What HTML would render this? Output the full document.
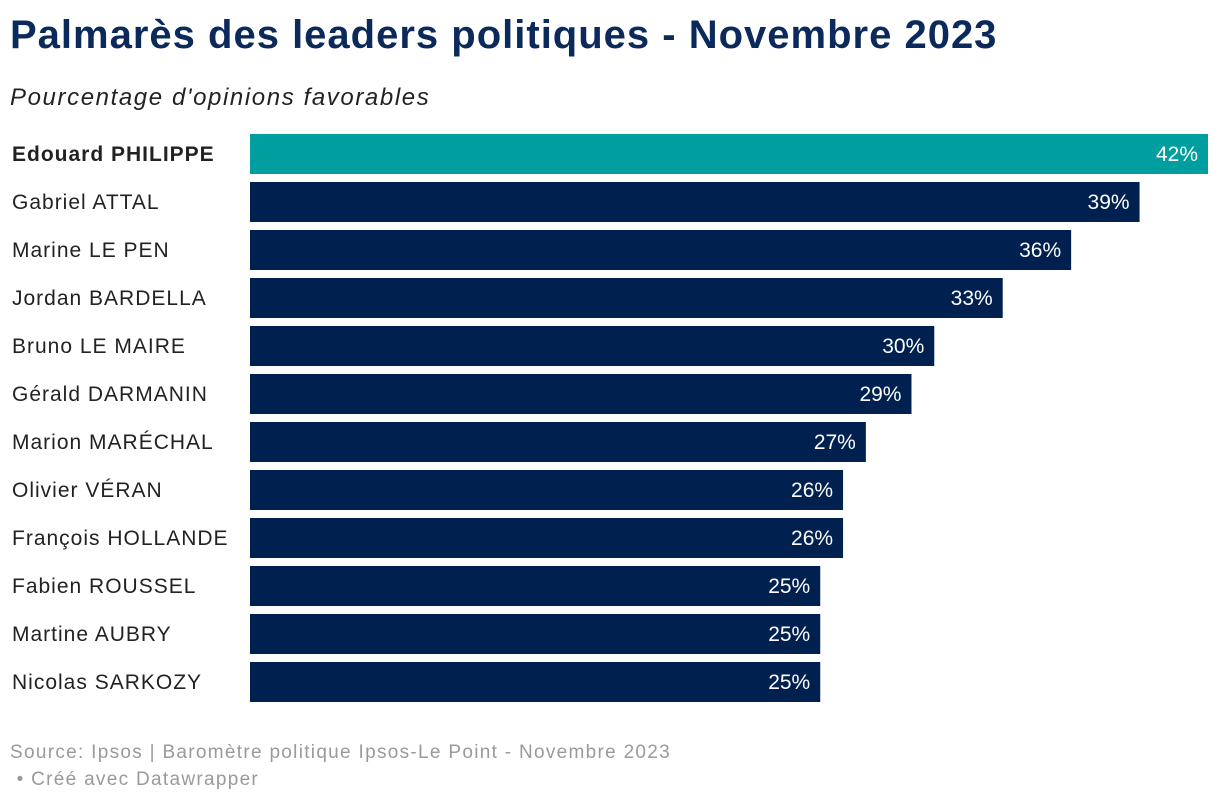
<!DOCTYPE html>
<html><head><meta charset="utf-8"><style>
body{margin:0;width:1220px;height:804px;background:#fff;font-family:"Liberation Sans",sans-serif;position:relative;overflow:hidden}
#title{position:absolute;left:10px;top:13px;font-size:40px;font-weight:bold;color:#0b2a5b;margin:0;letter-spacing:1.0px}
#sub{position:absolute;left:10px;top:84px;font-size:24px;font-style:italic;color:#222;letter-spacing:1.6px}
.foot{position:absolute;left:10px;font-size:19px;color:#9a9a9a;letter-spacing:1.3px}
</style></head><body>
<h1 id="title">Palmarès des leaders politiques - Novembre 2023</h1>
<div id="sub">Pourcentage d'opinions favorables</div>
<svg id="chart" width="1220" height="720" style="position:absolute;left:0;top:0"></svg>
<div class="foot" style="top:742px">Source: Ipsos | Baromètre politique Ipsos-Le Point - Novembre 2023</div>
<div class="foot" style="top:769px">&nbsp;• Créé avec Datawrapper</div>
<script>
const names=["Edouard PHILIPPE","Gabriel ATTAL","Marine LE PEN","Jordan BARDELLA","Bruno LE MAIRE","Gérald DARMANIN","Marion MARÉCHAL","Olivier VÉRAN","François HOLLANDE","Fabien ROUSSEL","Martine AUBRY","Nicolas SARKOZY"];
const values=[42,39,36,33,30,29,27,26,26,25,25,25];
const svg=document.getElementById('chart');
const NS="http://www.w3.org/2000/svg";
const x0=250,pxPer=958/42,top0=134,pitch=48,bh=40;
const xs=v=>v*pxPer;
const ys=i=>top0+i*pitch;
names.forEach((n,i)=>{
  const t=document.createElementNS(NS,'text');
  
  
  t.setAttribute('x',12);t.setAttribute('y',ys(i)+bh/2+7);
  t.setAttribute('font-size','21');t.setAttribute('fill','#222');
  t.setAttribute('letter-spacing','1.0');
  if(i===0)t.setAttribute('font-weight','bold');
  t.textContent=n;svg.appendChild(t);
  const r=document.createElementNS(NS,'rect');
  
  
  r.setAttribute('x',x0);r.setAttribute('y',ys(i));
  r.setAttribute('width',xs(values[i]));r.setAttribute('height',bh);
  r.setAttribute('fill',i===0?'#009e9f':'#002150');
  svg.appendChild(r);
  const v=document.createElementNS(NS,'text');
  
  
  v.setAttribute('x',x0+xs(values[i])-10);v.setAttribute('y',ys(i)+bh/2+7);
  v.setAttribute('text-anchor','end');v.setAttribute('font-size','21');v.setAttribute('fill','#fff');
  v.textContent=values[i]+'%';svg.appendChild(v);
});
</script>
</body></html>
